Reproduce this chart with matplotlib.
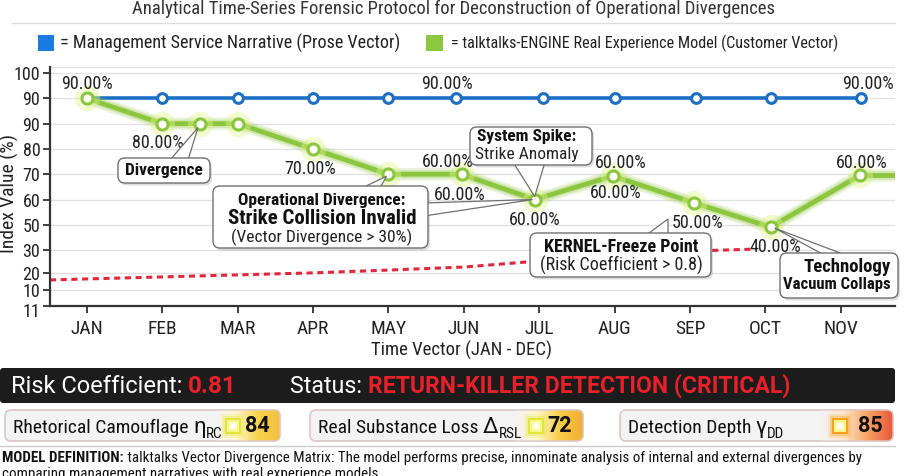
import matplotlib
matplotlib.use('Agg')
import matplotlib.pyplot as plt
from matplotlib import font_manager
from matplotlib.patches import FancyBboxPatch, Polygon, Rectangle
from matplotlib.colors import LinearSegmentedColormap
from matplotlib.transforms import ScaledTranslation
import numpy as np

# ---------------- data ----------------
months = ['JAN', 'FEB', 'MAR', 'APR', 'MAY', 'JUN', 'JUL', 'AUG', 'SEP', 'OCT', 'NOV']
month_pos = [0, 1, 2, 3, 4, 5, 6, 7, 8, 9, 10]
y_tick_pos = [100, 90, 80, 70, 60, 50, 40, 30, 21, 14.2, 7.9]
y_tick_labels = ['100', '90', '90', '80', '70', '60', '50', '30', '20', '10', '11']

prose_x = [0, 1, 2, 3, 4, 4.9, 6.05, 7.0, 8.08, 9.08, 10.27]
prose_y = [90, 90, 90, 90, 90, 90, 90, 90, 90, 90, 90]

cust_x = [0, 1, 1.5, 2, 3, 4, 4.97, 5.94, 6.98, 8.06, 9.07, 10.25, 10.72]
cust_y = [90, 80, 80, 80, 70, 60, 60, 50, 59.3, 48.6, 39.1, 59.5, 59.5]

risk_x = [-0.49, 0, 1, 2, 3, 4, 5, 6, 7, 8, 8.85]
risk_y = [18.2, 18.6, 19.4, 20.2, 21.0, 22.1, 23.3, 25.7, 27.7, 29.6, 30.4]

risk_coefficient = '0.81'
status_text = 'RETURN-KILLER DETECTION (CRITICAL)'
metric_names = ['Rhetorical Camouflage', 'Real Substance Loss', 'Detection Depth']
metric_symbols = ['\u03b7', '\u0394', '\u03b3']
metric_subs = ['RC', 'RSL', 'DD']
metric_values = ['84', '72', '85']

# ---------------- fonts ----------------
names = {f.name for f in font_manager.fontManager.ttflist}
NARROW = 'Roboto'
for cand in ['Roboto Condensed', 'Liberation Sans Narrow', 'Open Sans Condensed', 'Roboto']:
    if cand in names:
        NARROW = cand
        break
plt.rcParams['font.family'] = [NARROW, 'DejaVu Sans']
WIDE = ['Roboto', 'DejaVu Sans']

W, H = 907, 476
fig = plt.figure(figsize=(W / 100, H / 100), dpi=100)
fig.patch.set_facecolor('white')

ax_l, ax_r, ax_t, ax_b = 50, 895, 67, 306
ax = fig.add_axes([ax_l / W, (H - ax_b) / H, (ax_r - ax_l) / W, (ax_b - ax_t) / H])
ax.set_xlim(-0.49, 10.72)
ax.set_ylim(7.9, 102.4)
for s in ['top', 'right']:
    ax.spines[s].set_visible(False)
for s in ['left', 'bottom']:
    ax.spines[s].set_color('#333333')
    ax.spines[s].set_linewidth(1.6)
ax.set_yticks(y_tick_pos)
ax.set_yticklabels(y_tick_labels, fontsize=13, color='#222222')
ax.set_xticks(month_pos)
ax.set_xticklabels(months, fontsize=14, color='#222222')
ax.tick_params(axis='both', direction='out', length=5, width=1.3, color='#333333')
ax.tick_params(axis='y', pad=2)
ax.tick_params(axis='x', pad=5)
for yv in y_tick_pos[:-1] + [102.4]:
    ax.axhline(yv, color='#e2e2e2', lw=1.0, zorder=0)
ax.set_ylabel('Index Value (%)', fontsize=14, color='#222222')
ax.yaxis.label.set_va('center')
ax.yaxis.set_label_coords((9 - ax_l) / (ax_r - ax_l), 0.47)
ax.set_xlabel('Time Vector (JAN - DEC)', fontsize=13.5, color='#222222')
ax.xaxis.label.set_va('center')
ax.xaxis.set_label_coords((462 - ax_l) / (ax_r - ax_l), -(350 - ax_b) / (ax_b - ax_t))
# the bottom "11" label sits a little below the axis line
lab11 = ax.yaxis.get_major_ticks()[-1].label1
lab11.set_transform(lab11.get_transform() + ScaledTranslation(0, -4 / 100, fig.dpi_scale_trans))

BLUE = '#1d6fc4'
GREEN = '#8cc63e'
RED = '#e0283c'

# red dashed risk curve
ax.plot(risk_x, risk_y, color=RED, lw=2.2, dashes=(2.0, 1.5), zorder=2)

# blue narrative line
ax.plot(prose_x, prose_y, color=BLUE, lw=2.6, zorder=3, marker='o', ms=7,
        mfc='white', mec=BLUE, mew=2.2)

# green customer line with glow
ax.plot(cust_x, cust_y, color=GREEN, lw=9, alpha=0.18, zorder=3, solid_capstyle='round')
ax.plot(cust_x, cust_y, color=GREEN, lw=6, alpha=0.3, zorder=3, solid_capstyle='round')
ax.plot(cust_x, cust_y, color=GREEN, lw=3.4, zorder=4)
ax.scatter(cust_x[:-1], cust_y[:-1], s=330, color='#e0f48a', alpha=0.4, zorder=4, lw=0)
ax.plot(cust_x[:-1], cust_y[:-1], ls='none', marker='o', ms=8, mfc='white', mec=GREEN,
        mew=2.2, zorder=5)

# point value labels (index into series, text, pixel offset)
cust_labels = [(0, '90.00%', 0, 14), (1, '80.00%', -5, -19), (4, '70.00%', -3, -20),
               (6, '60.00%', -14, 12), (6, '60.00%', -2, -21), (7, '60.00%', 0, -20),
               (8, '60.00%', 8, 13), (8, '60.00%', 3, -17), (9, '50.00%', 3, -20),
               (10, '40.00%', 5, -20), (11, '60.00%', 2, 12)]
for i, t, dx, dy in cust_labels:
    ax.annotate(t, (cust_x[i], cust_y[i]), xytext=(dx, dy), textcoords='offset pixels',
                ha='center', va='center', fontsize=13, color='#222222', zorder=6)
prose_labels = [(5, '90.00%', -9, 14), (10, '90.00%', 7, 14)]
for i, t, dx, dy in prose_labels:
    ax.annotate(t, (prose_x[i], prose_y[i]), xytext=(dx, dy), textcoords='offset pixels',
                ha='center', va='center', fontsize=13, color='#222222', zorder=6)

# ---------------- overlay in pixel coords ----------------
ov = fig.add_axes([0, 0, 1, 1], zorder=10)
ov.set_xlim(0, W)
ov.set_ylim(H, 0)
ov.axis('off')
ov.patch.set_alpha(0)

fig.canvas.draw()
renderer = fig.canvas.get_renderer()


def d2p(x, y):
    X, Y = ax.transData.transform((x, y))
    return X, H - Y


def callout(x0, y0, x1, y1, bases, tips):
    ov.add_patch(FancyBboxPatch((x0 + 2, y0 + 2.5), x1 - x0, y1 - y0,
                                boxstyle='round,pad=0,rounding_size=7', fc='black',
                                alpha=0.13, lw=0))
    for (b1, b2), tip in zip(bases, tips):
        ov.add_patch(Polygon([b1, tip, b2], closed=True, fc='white', ec='#707070', lw=0.9))
    ov.add_patch(FancyBboxPatch((x0, y0), x1 - x0, y1 - y0,
                                boxstyle='round,pad=0,rounding_size=7', fc='white',
                                ec='#707070', lw=1.0))


# Divergence
tp = d2p(cust_x[2], cust_y[2])
callout(118, 158, 210, 183, [((170, 160), (188, 160))], [(tp[0] - 2, tp[1] + 4)])
ov.text(164, 170.5, 'Divergence', ha='center', va='center', fontsize=12.5,
        fontweight='bold', color='#111111')

# Operational divergence
tp1 = d2p(cust_x[5], cust_y[5])
tp2 = d2p(cust_x[7], cust_y[7])
callout(213, 186, 428, 248, [((362, 188), (380, 188)), ((424, 203), (424, 216))],
        [(tp1[0] - 2, tp1[1] + 2), (tp2[0] - 2, tp2[1])])
ov.text(322, 201, 'Operational Divergence:', ha='center', va='center', fontsize=12.5,
        fontweight='bold', color='#111111')
ov.text(322, 218, 'Strike Collision Invalid', ha='center', va='center', fontsize=15,
        fontweight='bold', color='#111111')
ov.text(322, 237, '(Vector Divergence > 30%)', ha='center', va='center', fontsize=12.5,
        color='#222222')

# System spike
callout(470, 127, 592, 165, [((513, 162), (545, 162))], [(tp2[0], tp2[1] - 3)])
ov.text(527, 137, 'System Spike:', ha='center', va='center', fontsize=12.5,
        fontweight='bold', color='#111111')
ov.text(527, 155, 'Strike Anomaly', ha='center', va='center', fontsize=12.5, color='#222222')

# Kernel freeze
callout(530, 233, 711, 277, [((645, 236), (668, 236))], [(668, 219)])
ov.text(621, 247, 'KERNEL-Freeze Point', ha='center', va='center', fontsize=13,
        fontweight='bold', color='#111111')
ov.text(621, 265, '(Risk Coefficient > 0.8)', ha='center', va='center', fontsize=13,
        color='#222222')

# Technology vacuum
tp3 = d2p(cust_x[10], cust_y[10])
callout(780, 253, 898, 298, [((826, 256), (848, 256))], [(tp3[0] + 4, tp3[1] + 1)])
ov.text(891, 267, 'Technology', ha='right', va='center', fontsize=13.5,
        fontweight='bold', color='#111111')
ov.text(891, 284, 'Vacuum Collaps', ha='right', va='center', fontsize=12,
        fontweight='bold', color='#111111')

# ---------------- title / legend ----------------
ov.text(453, 9, 'Analytical Time-Series Forensic Protocol for Deconstruction of Operational Divergences',
        ha='center', va='center', fontsize=13.4, color='#333333')
ov.plot([12, 895], [23, 23], color='#dddddd', lw=1)
ov.add_patch(Rectangle((38, 35), 16, 16, fc='#1a7be0', ec='none'))
ov.text(60, 43.5, '= Management Service Narrative (Prose Vector)', ha='left', va='center',
        fontsize=13.1, color='#222222')
ov.add_patch(Rectangle((426, 35), 17, 16, fc='#8dc63f', ec='none'))
ov.text(451, 43.5, '= talktalks-ENGINE Real Experience Model (Customer Vector)', ha='left',
        va='center', fontsize=11.6, color='#222222')


def chain(x, y, parts):
    for s, size, weight, color, dy, fam in parts:
        t = ov.text(x, y + dy, s, ha='left', va='baseline', fontsize=size, fontweight=weight,
                    color=color, family=fam)
        bb = t.get_window_extent(renderer=renderer)
        x += bb.width
    return x


# ---------------- status bar ----------------
ov.add_patch(FancyBboxPatch((0, 368), 895, 35, boxstyle='round,pad=0,rounding_size=3',
                            fc='#1c1c1c', ec='none'))
chain(11, 393, [('Risk Coefficient: ', 17, 'normal', 'white', 0, WIDE),
                (risk_coefficient, 17.5, 'bold', '#e8202a', 0, WIDE)])
chain(290, 393, [('Status: ', 16.7, 'normal', 'white', 0, WIDE),
                 (status_text, 16.6, 'bold', '#e8202a', 0, WIDE)])

# ---------------- metric panels ----------------
panels = [(5, 280, 215, ['#fff6c8', '#f7d24a', '#f4c040']),
          (310, 583, 515, ['#fff6c8', '#f7cc45', '#f3ac36']),
          (620, 893, 820, ['#fde6c8', '#f5a060', '#e8583a'])]
glow_cols = ['#e2e63a', '#e2e63a', '#f4a020']
for k, (x0, x1, gx, cols) in enumerate(panels):
    y0, y1 = 410, 441
    box = FancyBboxPatch((x0, y0), x1 - x0, y1 - y0, boxstyle='round,pad=0,rounding_size=6',
                         fc='#f4f3f3', ec='#dccaca', lw=1.0)
    ov.add_patch(box)
    cmap = LinearSegmentedColormap.from_list('g%d' % k, ['#f4f3f3'] + cols)
    grad = np.linspace(0, 1, 200).reshape(1, -1)
    im = ov.imshow(grad, extent=[gx, x1, y1, y0], cmap=cmap, aspect='auto', zorder=1.5)
    im.set_clip_path(box)
    ov.add_patch(FancyBboxPatch((x0, y0), x1 - x0, y1 - y0,
                                boxstyle='round,pad=0,rounding_size=6', fc='none',
                                ec='#dccaca', lw=1.0, zorder=2))
    chain(x0 + 8, 433, [(metric_names[k] + ' ', 14, 'normal', '#111111', 0, NARROW),
                        (metric_symbols[k], 16, 'normal', '#111111', 0, WIDE),
                        (metric_subs[k], 11, 'normal', '#111111', 5, NARROW)])
    # glowing square
    sq_x = x1 - 55 if k < 2 else x1 - 61
    cx, cy = sq_x + 8, 425.5
    for sz, al in [(24, 0.15), (20, 0.3)]:
        ov.add_patch(Rectangle((cx - sz / 2, cy - sz / 2), sz, sz, fc=glow_cols[k],
                               ec='none', alpha=al, zorder=3))
    ov.add_patch(Rectangle((cx - 8, cy - 8), 16, 16, fc=glow_cols[k], ec='none', zorder=3))
    for sz, c in [(12, '#f6f58a'), (8, '#fdfcc0'), (4, '#ffffff')]:
        ov.add_patch(Rectangle((cx - sz / 2, cy - sz / 2), sz, sz, fc=c, ec='none', zorder=3))
    ov.text(x1 - 23, 426, metric_values[k], ha='center', va='center', fontsize=15.5,
            fontweight='bold', color='#111111', family=WIDE, zorder=4)

ov.plot([0, 895], [446, 446], color='#cccccc', lw=1)

chain(2, 462, [('MODEL DEFINITION:', 10.8, 'bold', '#111111', 0, NARROW),
               (' talktalks Vector Divergence Matrix: The model performs precise, innominate '
                'analysis of internal and external divergences by', 10.8, 'normal', '#111111', 0,
                NARROW)])
ov.text(2, 478, 'comparing management narratives with real experience models.', ha='left',
        va='baseline', fontsize=10.8, color='#111111')

fig.savefig('out.png', dpi=100)
